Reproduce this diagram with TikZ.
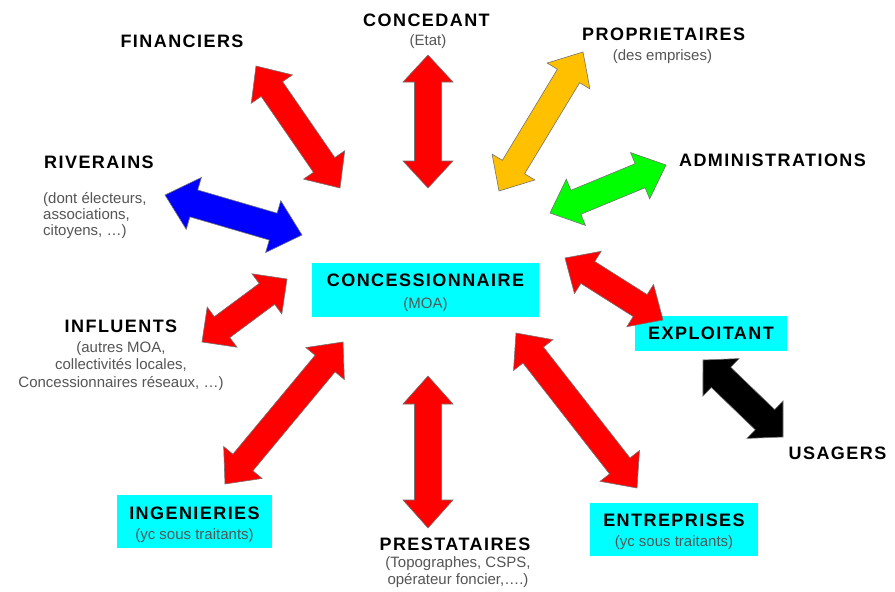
\documentclass[tikz,border=0pt]{standalone}
\usepackage{fontspec}
\setmainfont{Liberation Sans}
\newfontfamily\headfont{Liberation Sans}[LetterSpace=8]
\usetikzlibrary{calc}

\definecolor{boxcyan}{RGB}{0,255,255}
\definecolor{arrred}{RGB}{255,0,0}
\definecolor{arryellow}{RGB}{255,192,0}
\definecolor{arrgreen}{RGB}{0,255,0}
\definecolor{arrblue}{RGB}{0,0,255}
\definecolor{subgray}{RGB}{85,85,85}

\tikzset{
  title/.style={font=\headfont\bfseries\fontsize{18}{20}\selectfont, inner sep=0pt, anchor=base},
  sub/.style={font=\fontsize{15}{17}\selectfont, text=subgray, inner sep=0pt, anchor=base},
  keybox/.style={fill=boxcyan, draw=none, inner sep=0pt},
  arrowbody/.style={draw=black!55, line width=0.6pt},
}

% Double-headed block arrow between the coordinates (#1-a) and (#1-b).
% #2 fill colour, #3 half shaft width, #4 half head width, #5 head length
\newcommand\twoway[5]{%
  \coordinate (#1-p) at ($(#1-a)!#5!(#1-b)$);
  \coordinate (#1-q) at ($(#1-b)!#5!(#1-a)$);
  \path[arrowbody, fill=#2] (#1-a)
    -- ($(#1-p)!#4!90:(#1-b)$) -- ($(#1-p)!#3!90:(#1-b)$)
    -- ($(#1-q)!#3!-90:(#1-a)$) -- ($(#1-q)!#4!-90:(#1-a)$)
    -- (#1-b)
    -- ($(#1-q)!#4!90:(#1-a)$) -- ($(#1-q)!#3!90:(#1-a)$)
    -- ($(#1-p)!#3!-90:(#1-b)$) -- ($(#1-p)!#4!-90:(#1-b)$)
    -- cycle;
}

\begin{document}
\begin{tikzpicture}[x=1pt,y=-1pt]
\useasboundingbox[fill=white] (0,0) rectangle (895,592);

% central actor and boxed partners
\node[keybox, minimum width=227pt, minimum height=54pt] (concbox) at (425.5,290) {};
\node[title] (conc) at (425.5,286.7) {CONCESSIONNAIRE};
\node[sub] (concsub) at (425.5,308) {(MOA)};

\node[keybox, minimum width=152pt, minimum height=35pt] (explbox) at (711,333.5) {};
\node[title] (expl) at (711,339) {EXPLOITANT};

\node[keybox, minimum width=155pt, minimum height=53pt] (ingbox) at (194.5,521.5) {};
\node[title] (ing) at (194.5,519) {INGENIERIES};
\node[sub] (ingsub) at (194.5,539) {(yc sous traitants)};

\node[keybox, minimum width=168pt, minimum height=53pt] (entrbox) at (674,529.5) {};
\node[title] (entr) at (674,526.5) {ENTREPRISES};
\node[sub] (entrsub) at (674,546) {(yc sous traitants)};

% free-standing partners
\node[title] (fin) at (182,47) {FINANCIERS};
\node[title] (ced) at (426.5,26) {CONCEDANT};
\node[sub] (cedsub) at (428,45) {(Etat)};
\node[title] (prop) at (663.7,40.5) {PROPRIETAIRES};
\node[sub] (propsub) at (662.5,60) {(des emprises)};
\node[title] (adm) at (772.5,166.7) {ADMINISTRATIONS};

\node[title, anchor=base west] (riv) at (44,168) {RIVERAINS};
\node[sub, anchor=base west] (rivs1) at (43,203) {(dont électeurs,};
\node[sub, anchor=base west] (rivs2) at (43,219) {associations,};
\node[sub, anchor=base west] (rivs3) at (43,235) {citoyens, …)};

\node[title] (infl) at (121,332) {INFLUENTS};
\node[sub] (infls1) at (121,352) {(autres MOA,};
\node[sub] (infls2) at (121,369.5) {collectivités locales,};
\node[sub] (infls3) at (121,387) {Concessionnaires réseaux, …)};

\node[title] (prest) at (455,550) {PRESTATAIRES};
\node[sub] (prests1) at (458,567) {(Topographes, CSPS,};
\node[sub] (prests2) at (458,584) {opérateur foncier,….)};

\node[title] (usag) at (837.5,459) {USAGERS};

% arrow end points
\coordinate (fin-a) at (256,66);    \coordinate (fin-b) at (340,188);
\coordinate (ced-a) at (428,55);    \coordinate (ced-b) at (428,188);
\coordinate (prop-a) at (583,52);   \coordinate (prop-b) at (499,191);
\coordinate (adm-a) at (666,165);   \coordinate (adm-b) at (550,213);
\coordinate (riv-a) at (165,195);   \coordinate (riv-b) at (302,235);
\coordinate (infl-a) at (287,279);  \coordinate (infl-b) at (202,342);
\coordinate (ing-a) at (343,342);   \coordinate (ing-b) at (225,484);
\coordinate (prest-a) at (428,376); \coordinate (prest-b) at (428,528);
\coordinate (entr-a) at (516,333);  \coordinate (entr-b) at (637,488);
\coordinate (expl-a) at (565,258);  \coordinate (expl-b) at (663,320);
\coordinate (usag-a) at (703,360);  \coordinate (usag-b) at (783,437);

% block arrows
\twoway{fin}{arrred}{13pt}{25pt}{28pt}
\twoway{ced}{arrred}{13.5pt}{25pt}{27pt}
\twoway{prop}{arryellow}{13pt}{25pt}{28pt}
\twoway{adm}{arrgreen}{13pt}{25pt}{28pt}
\twoway{riv}{arrblue}{14pt}{27pt}{30pt}
\twoway{infl}{arrred}{13pt}{25pt}{25pt}
\twoway{ing}{arrred}{13pt}{25pt}{28pt}
\twoway{prest}{arrred}{13.5pt}{25pt}{28pt}
\twoway{entr}{arrred}{13pt}{25pt}{28pt}
\twoway{expl}{arrred}{13pt}{25pt}{27pt}
\twoway{usag}{black}{14pt}{26pt}{25pt}
\end{tikzpicture}
\end{document}
